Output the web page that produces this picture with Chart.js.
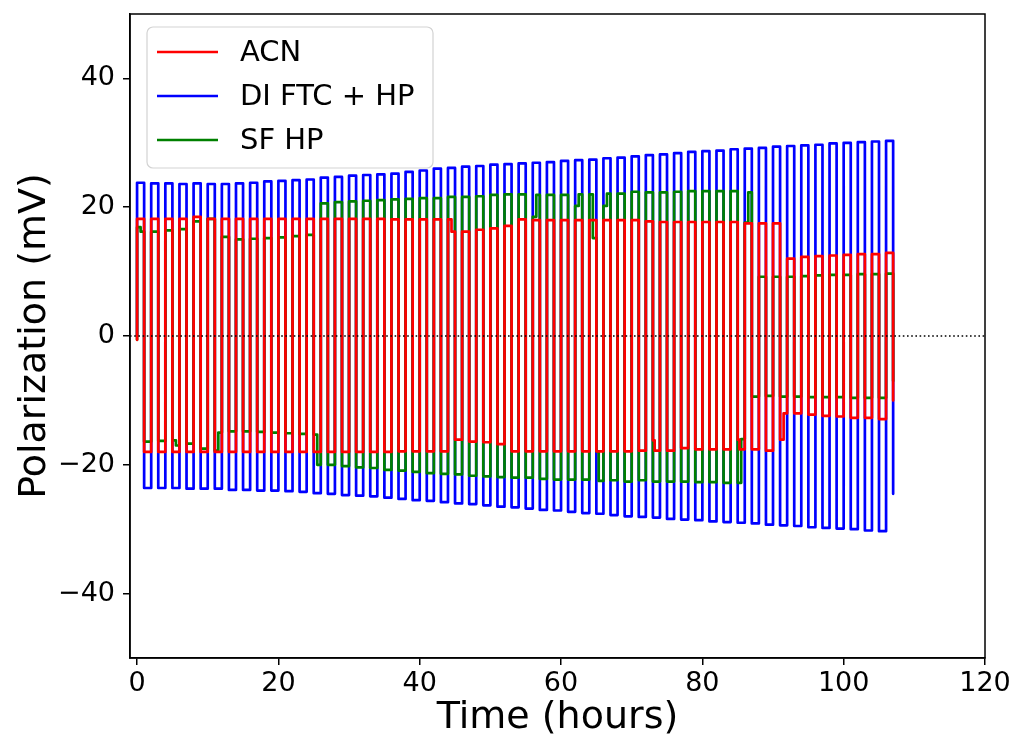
<!DOCTYPE html>
<html>
<head>
<meta charset="utf-8">
<title>Polarization vs time</title>
<script src="https://cdn.jsdelivr.net/npm/chart.js@4.4.1/dist/chart.umd.min.js"></script>
<style>
  html, body { margin: 0; padding: 0; background: #fff; }
  #wrap { width: 1017px; height: 742px; }
</style>
</head>
<body>
<div id="wrap"><canvas id="polChart" width="1017" height="742"></canvas></div>
<script>
// each cycle: +current for one hour, then -current for one hour
const cycleStarts = [0, 2, 4, 6, 8, 10, 12, 14, 16, 18, 20, 22, 24, 26, 28, 30, 32, 34,
  36, 38, 40, 42, 44, 46, 48, 50, 52, 54, 56, 58, 60, 62, 64, 66, 68, 70,
  72, 74, 76, 78, 80, 82, 84, 86, 88, 90, 92, 94, 96, 98, 100, 102, 104, 106];
const halfCycle = 1;
const endTime = 107;

const seriesLabels = ['ACN', 'DI FTC + HP', 'SF HP'];
const seriesColors = ['#ff0000', '#0000ff', '#008000'];

// plateau level (mV) per half cycle; a list means the level changes inside that half cycle
const acnHigh = [18.2, 18.2, 18.2, 18.2, 18.5, 18.2, 18.2, 18.2, 18.2, 18.2, 18.2, 18.2, 18.2, 18.2, 18.2, 18.2, 18.2, 18.2,
  18.1, 18.1, 18.1, 18.1, [18.1, 16.2], 16.2, 16.5, 16.7, 17.1, 18.1, 18.0, 18.0, 18.0, 18.0, 18.0, 18.0, 18.0, 18.0,
  17.8, 17.7, 17.7, 17.7, 17.7, 17.7, 17.7, 17.5, 17.5, 17.5, 12.0, 12.3, 12.4, 12.5, 12.6, 12.7, 12.7, 12.9];
const acnLow = [-18.0, -18.0, -18.0, -18.0, -18.0, -18.0, -18.0, -18.0, -18.0, -18.0, -18.0, -18.0, -18.0, -18.0, -18.0, -18.0, -18.0, -18.0,
  -17.9, -17.9, -17.9, -17.9, -16.1, -16.4, -16.5, -16.8, -17.9, -17.9, -17.9, -17.9, -17.9, -17.9, -17.9, -17.9, -17.9,
  -17.8, [-16.2, -17.8, -17.8, -17.8], -17.8, -17.4, -17.6, -17.6, -17.6, [-16.1, -17.6, -17.6, -17.6], -17.6, -17.8,
  [-16.1, -12.0], -12.0, -12.2, -12.4, -12.5, -12.7, -12.7, -12.9];
const acnStart = -0.6;
const acnEnd = -10.0;

const dftcHigh = [23.8, 23.7, 23.7, 23.6, 23.7, 23.6, 23.6, 23.7, 23.8, 24.0, 24.1, 24.2, 24.3, 24.6, 24.7, 24.9, 25.0, 25.1,
  25.2, 25.5, 25.7, 26.0, 26.1, 26.3, 26.4, 26.6, 26.7, 26.8, 26.9, 27.0, 27.2, 27.3, 27.4, 27.6, 27.7, 27.9,
  28.1, 28.2, 28.4, 28.6, 28.7, 28.8, 29.0, 29.1, 29.2, 29.4, 29.5, 29.6, 29.7, 29.9, 30.0, 30.1, 30.2, 30.3];
const dftcLow = [-23.6, -23.6, -23.6, -23.7, -23.7, -23.7, -23.9, -23.9, -24.0, -24.0, -24.1, -24.2, -24.4, -24.5, -24.7, -24.8, -24.9, -25.1,
  -25.3, -25.5, -25.6, -25.8, -26.0, -26.1, -26.3, -26.5, -26.6, -26.8, -27.0, -27.1, -27.3, -27.5, -27.6, -27.8, -28.0,
  -28.1, -28.2, -28.4, -28.5, -28.6, -28.8, -28.9, -29.0, -29.1, -29.3, -29.4, -29.5, -29.7, -29.8, -29.9, -30.0, -30.2, -30.3];
const dftcStart = 0;
const dftcEnd = -24.5;

const sfHigh = [[16.9, 16.2], 16.2, 16.4, 16.6, 17.8, 18.2, 15.4, 15.0, 15.1, 15.2, 15.3, 15.5, 15.7, 20.6, 20.8, 20.9, 21.0, 21.1,
  21.2, 21.3, 21.4, 21.4, 21.6, 21.6, 21.7, 21.9, 22.0, 22.0, [18.5, 21.9], 21.9, 21.9, [20.2, 22.0], [22.0, 15.2], [20.2, 22.1], 22.1, 22.4,
  22.3, 22.3, 22.4, 22.5, 22.5, 22.5, 22.5, [17.6, 22.3], 9.2, 9.2, 9.2, 9.3, 9.4, 9.5, 9.5, 9.6, 9.6, 9.7];
const sfLow = [-16.4, -16.3, [-16.2, -17.0], -16.7, -17.5, [-17.8, -15.0], -14.8, -14.8, -14.9, -15.0, -15.1, -15.2, [-15.3, -20.0], -20.0, -20.2, -20.4, -20.5, -20.8,
  -20.9, -21.1, -21.3, -21.4, -21.5, -21.7, -21.8, -21.9, -22.0, -22.0, -22.2, -22.3, -22.3, -22.3, [-17.9, -22.5, -22.5], -22.4, -22.6,
  -22.4, -22.6, -22.6, -22.6, -22.7, -22.7, -22.8, [-22.8, -16.0], -9.4, -9.3, -9.4, -9.4, -9.5, -9.5, -9.5, -9.6, -9.6, -9.6];
const sfStart = -0.6;
const sfEnd = -7.0;

const xTicks = [0, 20, 40, 60, 80, 100, 120];
const yTicks = [-40, -20, 0, 20, 40];

// turn plateau levels into a square wave
function pushLevels(pts, t0, t1, level) {
  const levels = Array.isArray(level) ? level : [level];
  const step = (t1 - t0) / levels.length;
  levels.forEach((v, i) => {
    pts.push({ x: t0 + i * step, y: v });
    pts.push({ x: t0 + (i + 1) * step, y: v });
  });
}

function squareWave(high, low, start, end) {
  const pts = [{ x: cycleStarts[0], y: start }];
  cycleStarts.forEach((t, k) => {
    pushLevels(pts, t, t + halfCycle, high[k]);
    if (k < low.length) pushLevels(pts, t + halfCycle, t + 2 * halfCycle, low[k]);
  });
  pts.push({ x: endTime, y: end });
  return pts;
}

const fmt = v => v < 0 ? '\u2212' + Math.abs(v) : String(v);
const lineW = 2.7;

const extras = {
  id: 'extras',
  afterDatasetsDraw(chart) {
    const { ctx, chartArea: a, scales } = chart;
    const y0 = scales.y.getPixelForValue(0);
    ctx.save();
    ctx.strokeStyle = '#000';
    ctx.lineWidth = 1.6;
    ctx.setLineDash([1.6, 2.6]);
    ctx.beginPath();
    ctx.moveTo(a.left, y0);
    ctx.lineTo(a.right, y0);
    ctx.stroke();
    ctx.restore();
  },
  afterDraw(chart) {
    const { ctx, chartArea: a } = chart;
    ctx.save();
    ctx.strokeStyle = '#000';
    ctx.lineWidth = 1.5;
    ctx.strokeRect(a.left, a.top, a.right - a.left, a.bottom - a.top);

    // legend box, matplotlib style
    const bx = a.left + 17, by = a.top + 13, bw = 286, bh = 141;
    ctx.beginPath();
    ctx.roundRect(bx, by, bw, bh, 6);
    ctx.fillStyle = 'rgba(255,255,255,0.8)';
    ctx.fill();
    ctx.strokeStyle = '#d3d3d3';
    ctx.lineWidth = 1.2;
    ctx.stroke();

    ctx.font = '29px "DejaVu Sans"';
    ctx.textBaseline = 'middle';
    ctx.fillStyle = '#000';
    seriesLabels.forEach((lab, i) => {
      const ly = by + 25 + i * 44;
      ctx.strokeStyle = seriesColors[i];
      ctx.lineWidth = lineW;
      ctx.beginPath();
      ctx.moveTo(bx + 10, ly);
      ctx.lineTo(bx + 71, ly);
      ctx.stroke();
      ctx.fillText(lab, bx + 93, ly + 1);
    });
    ctx.restore();
  }
};

const ctx = document.getElementById('polChart').getContext('2d');
new Chart(ctx, {
  type: 'line',
  data: {
    datasets: [
      { label: seriesLabels[0], data: squareWave(acnHigh, acnLow, acnStart, acnEnd), borderColor: seriesColors[0], borderWidth: lineW, order: 0 },
      { label: seriesLabels[1], data: squareWave(dftcHigh, dftcLow, dftcStart, dftcEnd), borderColor: seriesColors[1], borderWidth: lineW, order: 2 },
      { label: seriesLabels[2], data: squareWave(sfHigh, sfLow, sfStart, sfEnd), borderColor: seriesColors[2], borderWidth: lineW, order: 1 }
    ]
  },
  options: {
    responsive: false,
    animation: false,
    parsing: false,
    normalized: true,
    layout: { padding: { top: 14, right: 32, left: 0, bottom: 0 } },
    elements: {
      point: { radius: 0, hoverRadius: 0 },
      line: { borderWidth: lineW, tension: 0, fill: false, borderJoinStyle: 'round', borderCapStyle: 'round' }
    },
    plugins: { legend: { display: false }, tooltip: { enabled: false } },
    scales: {
      x: {
        type: 'linear',
        min: -1,
        max: 120,
        afterFit(scale) { scale.height = 84; scale.paddingLeft = 0; scale.paddingRight = 0; },
        afterBuildTicks(scale) { scale.ticks = xTicks.map(v => ({ value: v })); },
        border: { display: true, color: '#000', width: 1.5 },
        grid: { drawOnChartArea: false, drawTicks: true, tickLength: 7, color: '#000', lineWidth: 1.5 },
        ticks: { color: '#000', font: { family: 'DejaVu Sans', size: 27 }, padding: 3, maxRotation: 0, autoSkip: false, callback: fmt },
        title: { display: true, text: 'Time (hours)', color: '#000', font: { family: 'DejaVu Sans', size: 38 }, padding: { top: 0, bottom: 1 } }
      },
      y: {
        type: 'linear',
        min: -50,
        max: 50,
        afterFit(scale) { scale.width = 130; scale.paddingTop = 0; scale.paddingBottom = 0; },
        afterBuildTicks(scale) { scale.ticks = yTicks.map(v => ({ value: v })); },
        border: { display: true, color: '#000', width: 1.5 },
        grid: { drawOnChartArea: false, drawTicks: true, tickLength: 7, color: '#000', lineWidth: 1.5 },
        ticks: { color: '#000', font: { family: 'DejaVu Sans', size: 27 }, padding: 8, callback: fmt },
        title: { display: true, text: 'Polarization (mV)', color: '#000', font: { family: 'DejaVu Sans', size: 38 }, padding: { top: 12, bottom: 0 } }
      }
    }
  },
  plugins: [extras]
});
</script>
</body>
</html>
